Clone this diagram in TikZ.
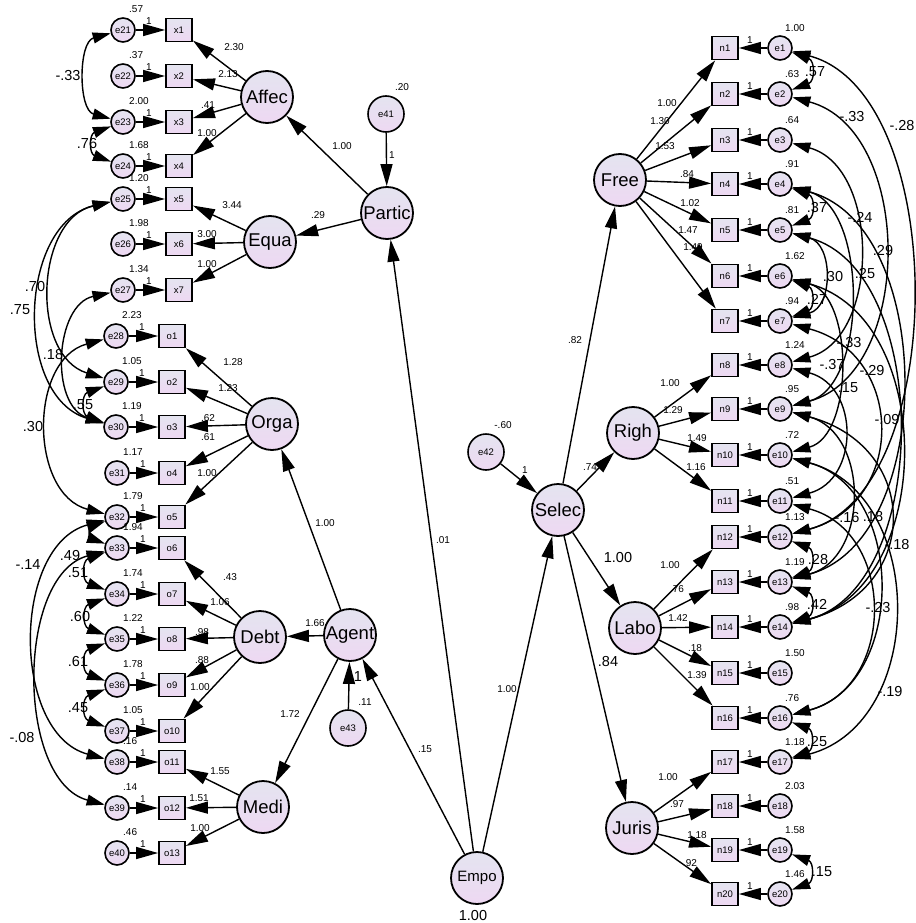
\documentclass[tikz,border=0pt]{standalone}
\usepackage{fontspec}
\setmainfont{Liberation Sans}
\usetikzlibrary{arrows.meta}
\definecolor{cA}{RGB}{228,228,240}
\definecolor{cB}{RGB}{238,216,242}
\begin{document}
\begin{tikzpicture}[x=1pt,y=-1pt,
  lat/.style={circle,draw,line width=1.8pt,minimum size=52pt,inner sep=0pt,top color=cA,bottom color=cB,font=\fontsize{18.5}{18.5}\selectfont},
  errc/.style={circle,draw,line width=1.6pt,minimum size=24pt,inner sep=0pt,top color=cA,bottom color=cB,font=\fontsize{9.5}{10}\selectfont},
  errb/.style={errc,minimum size=36pt},
  obs/.style={rectangle,draw,line width=1.8pt,minimum width=26pt,minimum height=23pt,inner sep=0pt,top color=cA,bottom color=cB,font=\fontsize{9.5}{10}\selectfont},
  pth/.style={line width=1.4pt,-{Triangle[length=22pt,width=12pt]}},
  cov/.style={line width=1.4pt,{Triangle[length=18pt,width=11pt]}-{Triangle[length=18pt,width=11pt]}},
  sm/.style={font=\fontsize{10}{10}\selectfont,inner sep=0pt},
  bg/.style={font=\fontsize{14.5}{15}\selectfont,inner sep=0pt},
  vl/.style={sm,anchor=west}
]
\useasboundingbox (0,0) rectangle (915,923);

% ---------- left indicators ----------
\foreach \n/\o/\x/\xo/\y in {21/x1/123/179/30, 22/x2/123/179/76, 23/x3/123/179/122, 24/x4/123/179/166, 25/x5/123/179/199, 26/x6/123/179/244, 27/x7/123/179/290, 28/o1/116/172/336, 29/o2/116/172/382, 30/o3/116/172/427, 31/o4/117/172/473, 32/o5/117/172/517, 33/o6/117/172/548, 34/o7/117/172/594, 35/o8/117/172/639, 36/o9/117/172/685, 37/o10/117/172/731, 38/o11/117/172/762, 39/o12/117/172/808, 40/o13/117/172/853}
{
  \node[errc] (e\n) at (\x,\y) {e\n};
  \node[obs] (\o) at (\xo,\y) {\o};
  \draw[pth] (e\n) -- (\o);
  \node[sm] at (\x+26,\y-9) {1};
}
\foreach \n/\v in {21/.57,22/.37,23/2.00,24/1.68,25/1.20,26/1.98,27/1.34,28/2.23,29/1.05,30/1.19,31/1.17,32/1.79,33/1.94,34/1.74,35/1.22,36/1.78,37/1.05,38/.16,39/.14,40/.46}
  \node[vl] at ([shift={(6,-21)}]e\n.center) {\v};

% ---------- right indicators ----------
\foreach \n/\y in {1/48,2/94,3/140,4/184,5/230,6/276,7/321,8/365,9/409,10/455,11/501,12/537,13/582,14/627,15/673,16/718,17/762,18/806,19/850,20/894}
{
  \node[obs] (n\n) at (725,\y) {n\n};
  \node[errc] (e\n) at (780,\y) {e\n};
  \draw[pth] (e\n) -- (n\n);
  \node[sm] at (750,\y-8) {1};
}
\foreach \n/\v in {1/1.00,2/.63,3/.64,4/.91,5/.81,6/1.62,7/.94,8/1.24,9/.95,10/.72,11/.51,12/1.13,13/1.19,14/.98,15/1.50,16/.76,17/1.18,18/2.03,19/1.58,20/1.46}
  \node[vl] at ([shift={(5,-20)}]e\n.center) {\v};

% ---------- latent variables ----------
\node[lat] (Affec) at (267,97) {Affec};
\node[lat] (Equa) at (270,242) {Equa};
\node[lat] (Partic) at (387,213) {Partic};
\node[errb] (e41) at (386,114) {e41};
\node[lat] (Orga) at (272,424) {Orga};
\node[lat] (Debt) at (260,637) {Debt};
\node[lat] (Agent) at (350,635) {Agent};
\node[lat] (Medi) at (263,807) {Medi};
\node[errb] (e43) at (348,728) {e43};
\node[lat,font=\fontsize{15}{15}\selectfont] (Empo) at (477,878) {Empo};
\node[lat] (Selec) at (558,510) {Selec};
\node[errb] (e42) at (486,452) {e42};
\node[lat] (Free) at (620,180) {Free};
\node[lat] (Righ) at (633,433) {Righ};
\node[lat] (Labo) at (635,628) {Labo};
\node[lat] (Juris) at (632,828) {Juris};

% ---------- structural paths ----------
\draw[pth] (Partic) -- (Affec);
\draw[pth] (Partic) -- (Equa);
\draw[pth] (e41) -- (Partic);
\draw[pth] (Empo) -- (Partic);
\draw[pth] (Empo) -- (Agent);
\draw[pth] (Empo) -- (Selec);
\draw[pth] (Agent) -- (Orga);
\draw[pth] (Agent) -- (Debt);
\draw[pth] (Agent) -- (Medi);
\draw[pth] (e43) -- (Agent);
\draw[pth] (e42) -- (Selec);
\draw[pth] (Selec) -- (Free);
\draw[pth] (Selec) -- (Righ);
\draw[pth] (Selec) -- (Labo);
\draw[pth] (Selec) -- (Juris);

% ---------- loadings ----------
\foreach \t in {x1,x2,x3,x4} \draw[pth] (Affec) -- (\t);
\foreach \t in {x5,x6,x7} \draw[pth] (Equa) -- (\t);
\foreach \t in {o1,o2,o3,o4,o5} \draw[pth] (Orga) -- (\t);
\foreach \t in {o6,o7,o8,o9,o10} \draw[pth] (Debt) -- (\t);
\foreach \t in {o11,o12,o13} \draw[pth] (Medi) -- (\t);
\foreach \t in {n1,n2,n3,n4,n5,n6,n7} \draw[pth] (Free) -- (\t);
\foreach \t in {n8,n9,n10,n11} \draw[pth] (Righ) -- (\t);
\foreach \t in {n12,n13,n14,n15,n16} \draw[pth] (Labo) -- (\t);
\foreach \t in {n17,n18,n19,n20} \draw[pth] (Juris) -- (\t);

% ---------- left covariances ----------
\draw[cov] (e21) to[bend right=75,looseness=1.01] (e23);
\draw[cov] (e23) to[bend right=70,looseness=1.7] (e24);
\draw[cov] (e25) to[bend right=75,looseness=1.12] (e29);
\draw[cov] (e25) to[bend right=75,looseness=1.09] (e30);
\draw[cov] (e27) to[bend right=75,looseness=1.12] (e30);
\draw[cov] (e29) to[bend right=70,looseness=1.7] (e30);
\draw[cov] (e28) to[bend right=75,looseness=1.14] (e32);
\draw[cov] (e32) to[bend right=70,looseness=1.9] (e33);
\draw[cov] (e33) to[bend right=70,looseness=1.7] (e34);
\draw[cov] (e34) to[bend right=70,looseness=1.7] (e35);
\draw[cov] (e35) to[bend right=70,looseness=1.7] (e36);
\draw[cov] (e36) to[bend right=70,looseness=1.7] (e37);
\draw[cov] (e32) to[bend right=75,looseness=1.04] (e38);
\draw[cov] (e33) to[bend right=75,looseness=0.93] (e39);

% ---------- right covariances ----------
\draw[cov] (e1) to[bend left=70,looseness=1.7] (e2);
\draw[cov] (e4) to[bend left=70,looseness=1.7] (e5);
\draw[cov] (e6) to[bend left=70,looseness=1.7] (e7);
\draw[cov] (e12) to[bend left=70,looseness=1.7] (e13);
\draw[cov] (e13) to[bend left=70,looseness=1.7] (e14);
\draw[cov] (e16) to[bend left=70,looseness=1.7] (e17);
\draw[cov] (e19) to[bend left=70,looseness=1.7] (e20);
\draw[cov] (e1) to[bend left=75,looseness=0.87] (e12);
\draw[cov] (e2) to[bend left=75,looseness=1.05] (e9);
\draw[cov] (e3) to[bend left=75,looseness=1.07] (e8);
\draw[cov] (e4) to[bend left=75,looseness=0.98] (e13);
\draw[cov] (e5) to[bend left=75,looseness=0.95] (e14);
\draw[cov] (e5) to[bend left=75,looseness=1.29] (e7);
\draw[cov] (e4) to[bend left=75,looseness=0.92] (e9);
\draw[cov] (e6) to[bend left=75,looseness=0.95] (e10);
\draw[cov] (e7) to[bend left=75,looseness=1.44] (e12);
\draw[cov] (e8) to[bend left=75,looseness=1.38] (e11);
\draw[cov] (e9) to[bend left=75,looseness=1.62] (e14);
\draw[cov] (e9) to[bend left=75,looseness=1.23] (e13);
\draw[cov] (e10) to[bend left=75,looseness=1.18] (e16);
\draw[cov] (e6) to[bend left=75,looseness=1.11] (e14);
\draw[cov] (e11) to[bend left=75,looseness=1.31] (e16);
\draw[cov] (e10) to[bend left=75,looseness=1.19] (e17);

% ---------- path labels (small) ----------
\foreach \x/\y/\t in {234/47/2.30, 228/74/2.13, 208/105/.41, 207/133/1.00,
  232/205/3.44, 207/234/3.00, 207/264/1.00,
  233/362/1.28, 228/388/1.23, 208/418/.62, 208/437/.61, 207/473/1.00,
  230/577/.43, 220/602/1.06, 202/632/.98, 202/660/.88, 200/687/1.00,
  220/771/1.55, 199/798/1.51, 200/828/1.00,
  342/146/1.00, 318/215/.29, 392/155/1, 402/87/.20,
  325/523/1.00, 315/623/1.66, 290/714/1.72, 365/702/.11,
  443/540/.01, 425/749/.15, 507/689/1.00,
  503/425/-.60, 525/470/1, 575/340/.82, 590/467/.74,
  667/103/1.00, 660/121/1.30, 665/146/1.53, 687/174/.84, 690/203/1.02, 688/230/1.47, 693/247/1.49,
  670/383/1.00, 673/410/1.29, 697/438/1.49, 696/467/1.16,
  670/565/1.00, 677/589/.76, 678/618/1.42, 695/648/.18, 697/675/1.39,
  668/777/1.00, 677/804/.97, 697/835/1.18, 690/863/.92}
  \node[sm] at (\x,\y) {\t};

% ---------- big labels ----------
\foreach \x/\y/\t in {473/915/1.00, 358/677/1, 618/558/1.00, 608/662/.84,
  68/76/-.33, 87/144/.76, 35/287/.70, 20/310/.75, 53/355/.18, 33/427/.30, 83/405/.55,
  28/565/-.14, 70/556/.49, 78/573/.51, 80/617/.60, 78/662/.61, 78/708/.45, 22/737/-.08,
  815/72/.57, 852/117/-.33, 902/126/-.28, 817/208/.37, 860/217/-.24, 883/251/.29,
  833/277/.30, 865/274/.25, 817/299/.27, 849/343/-.33, 832/365/-.37, 872/371/-.29,
  848/388/.15, 887/420/-.09, 847/518/-.16, 873/517/.18, 897/545/-.18, 818/560/.28,
  817/604/.42, 878/608/-.23, 817/741/.25, 890/692/-.19, 822/872/.15}
  \node[bg] at (\x,\y) {\t};
\end{tikzpicture}
\end{document}
